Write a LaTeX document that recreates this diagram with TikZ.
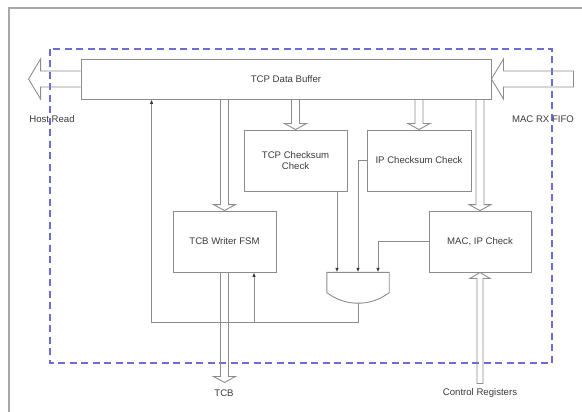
\documentclass[tikz,border=0pt]{standalone}
\usepackage{fontspec}
\setmainfont{Liberation Sans}
\usetikzlibrary{calc,arrows.meta}
\definecolor{ln}{HTML}{8C8C8C}
\definecolor{tx}{HTML}{3A3A3A}
\definecolor{dsh}{HTML}{6C6CD2}
\definecolor{frm}{HTML}{A8A8A8}
\newcommand\hdown[2]{\draw[hol] ($(#1)+(-4,0)$) -- ($(#2)+(-4,-6)$) -- ($(#2)+(-11,-6)$) -- (#2) -- ($(#2)+(11,-6)$) -- ($(#2)+(4,-6)$) -- ($(#1)+(4,0)$);}
\begin{document}
\begin{tikzpicture}[x=1pt,y=-1pt,
  font=\fontsize{9.6}{11.5}\selectfont, text=tx,
  box/.style={draw=ln, line width=0.9pt, inner sep=2pt, align=center},
  conn/.style={draw=ln, line width=0.9pt},
  tip/.style={-{Latex[length=4.5pt,width=3.6pt,color=tx]}},
  hol/.style={draw=ln, line width=0.9pt, line join=miter},
  lbl/.style={inner sep=1pt}]
\useasboundingbox (0,0) rectangle (582,412);
% frame
\draw[frm, line width=1.3pt] (9,412) -- (9,8) -- (582,8);
% dashed boundary
\draw[dsh, line width=1.1pt, dash pattern=on 7pt off 4.5pt] (50,49) rectangle (552,363);
% blocks
\node[box, minimum width=410pt, minimum height=40pt] (buf) at (286,79) {TCP Data Buffer};
\node[box, minimum width=103pt, minimum height=61pt] (tcp) at (295.5,160.5) {TCP Checksum\\Check};
\node[box, minimum width=104pt, minimum height=61pt] (ip) at (419,160.5) {IP Checksum Check};
\node[box, minimum width=103pt, minimum height=61pt] (tcb) at (224.5,241.5) {TCB Writer FSM};
\node[box, minimum width=102pt, minimum height=61pt] (mac) at (480,241.5) {MAC, IP Check};
\node[minimum width=62pt, minimum height=20pt, inner sep=0pt] (gate) at (358,282.5) {};
% gate outline
\coordinate (gp) at ($(gate.south)+(0,10.5)$);
\draw[conn, line join=miter] (gate.south west) -- (gate.north west) -- (gate.north east) -- (gate.south east)
  .. controls ($(gate.south east)+(-11,8)$) and ($(gp)+(10,0)$) .. (gp)
  .. controls ($(gp)+(-10,0)$) and ($(gate.south west)+(11,8)$) .. (gate.south west);
% labels
\node[lbl] (hr) at (52,119) {Host Read};
\node[lbl] (mrx) at (543,119) {MAC RX FIFO};
\node[lbl] (tcbl) at (224,393) {TCB};
\node[lbl] (crl) at (480,393) {Control Registers};
% big side arrows
\draw[hol] ($(buf.west)+(0,-8)$) -- +(-40,0) -- +(-40,-12) -- +(-52,8) -- +(-40,28) -- +(-40,16) -- +(0,16);
\draw[hol] (buf.east) -- +(12,-20) -- +(12,-8) -- +(82,-8) -- +(82,8) -- +(12,8) -- +(12,20) -- cycle;
% hollow arrows from buffer
\coordinate (s1) at (buf.south -| tcb.north);
\coordinate (s2) at (buf.south -| tcp.north);
\coordinate (s3) at (buf.south -| ip.north);
\coordinate (s4) at (buf.south -| mac.north);
\hdown{s1}{tcb.north}
\hdown{s2}{tcp.north}
\hdown{s3}{ip.north}
\hdown{s4}{mac.north}
% TCB output
\coordinate (tcbo) at ($(tcb.south)+(0,110)$);
\draw[hol] ($(tcb.south)+(-4,0)$) -- ($(tcbo)+(-4,-6)$) -- ($(tcbo)+(-11,-6)$) -- (tcbo) -- ($(tcbo)+(11,-6)$) -- ($(tcbo)+(4,-6)$) -- ($(tcb.south)+(4,0)$);
% control registers input
\coordinate (cri) at ($(mac.south)+(0,111)$);
\draw[hol] ($(cri)+(-3,0)$) -- ($(mac.south)+(-3,6)$) -- ($(mac.south)+(-10,6)$) -- (mac.south) -- ($(mac.south)+(10,6)$) -- ($(mac.south)+(3,6)$) -- ($(cri)+(3,0)$) -- cycle;
% gate inputs
\coordinate (g1) at ($(gate.north)+(-21,0)$);
\coordinate (g2) at (gate.north);
\coordinate (g3) at ($(gate.north)+(20,0)$);
\draw[conn, tip] (tcp.south -| g1) -- (g1);
\draw[conn, tip] (ip.west) -| (g2);
\draw[conn, tip] (mac.west) -| (g3);
% feedback
\coordinate (fb) at ($(gp)+(0,19.5)$);
\coordinate (bufin) at ($(buf.south west)+(71,0)$);
\coordinate (tcbin) at ($(tcb.south)+(29.5,0)$);
\draw[conn, tip] (gp) -- (fb) -| (bufin);
\draw[conn, tip] (fb -| tcbin) -- (tcbin);
\end{tikzpicture}
\end{document}
